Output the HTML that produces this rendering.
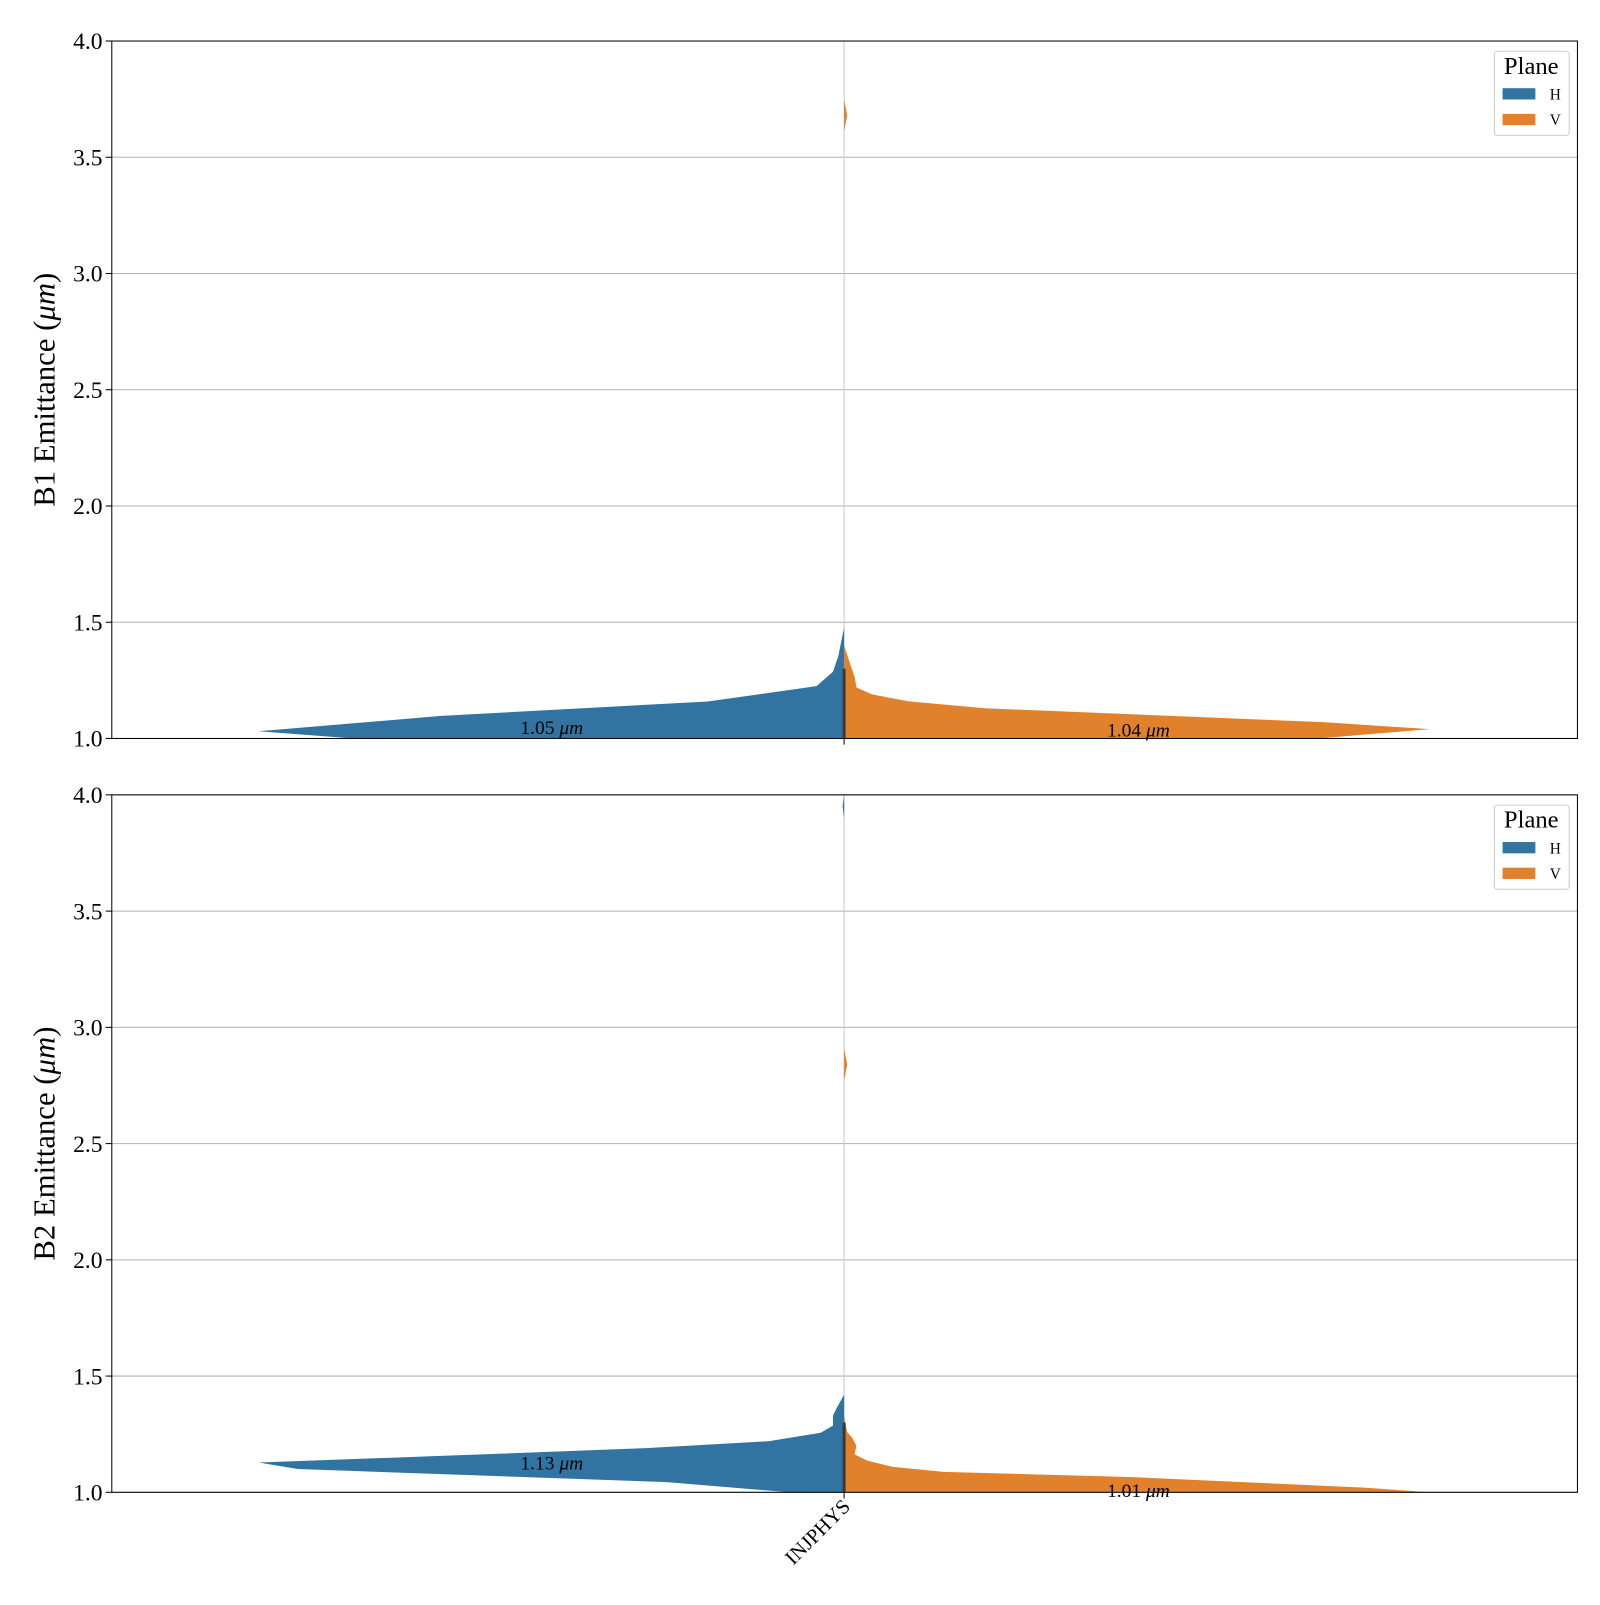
<!DOCTYPE html>
<html><head><meta charset="utf-8"><style>
body{margin:0;background:#fff}
svg{font-family:"Liberation Serif",serif}
</style></head><body>
<svg id="c" width="1600" height="1600" xmlns="http://www.w3.org/2000/svg"><g id="root" transform="scale(1.02564)"></g></svg>
<script>
const yTicks=[1.0,1.5,2.0,2.5,3.0,3.5,4.0];
const category=["INJPHYS"];
const panelLabels=["B1 Emittance (","B2 Emittance ("];
const b1H_y=[1.0,1.031,1.097,1.159,1.225,1.287,1.353,1.477];
const b1H_w=[0.837,1.0,0.688,0.233,0.047,0.019,0.01,0];
const b1V_y=[1.0,1.02,1.04,1.07,1.13,1.16,1.19,1.22,1.265,1.33,1.40];
const b1V_w=[0.81,0.905,1.0,0.818,0.24,0.109,0.047,0.021,0.018,0.009,0];
const b2H_y=[1.0,1.044,1.10,1.128,1.155,1.19,1.22,1.256,1.287,1.33,1.366,1.42];
const b2H_w=[0.093,0.303,0.933,1.0,0.706,0.338,0.128,0.04,0.019,0.019,0.012,0];
const b2V_y=[1.0,1.02,1.066,1.088,1.11,1.137,1.163,1.2,1.234,1.26,1.33];
const b2V_w=[1.0,0.888,0.485,0.17,0.082,0.039,0.018,0.021,0.014,0.005,0];
const medians=[[1.05,1.04],[1.13,1.01]];
const blips=[[null,3.68],[3.95,2.84]];
const NS="http://www.w3.org/2000/svg";
const svg=document.getElementById('root');
function mk(t,a,p){const e=document.createElementNS(NS,t);for(const k in a)e.setAttribute(k,a[k]);(p||svg).appendChild(e);return e;}
const X0=109,X1=1538,CX=823,W=571;
const panels=[{top:40,H:[b1H_y,b1H_w],V:[b1V_y,b1V_w]},{top:775,H:[b2H_y,b2H_w],V:[b2V_y,b2V_w]}];
panels.forEach((p,i)=>{
  const bot=p.top+680;
  const ys=v=>bot-(v-1)/3*680;
  const g=mk('g',{});
  
  
  yTicks.forEach(t=>{
    const l=mk('line',{x1:X0,x2:X1,y1:ys(t),y2:ys(t),stroke:'#b0b0b0','stroke-width':1},g);
    
    mk('line',{x1:X0-6,x2:X0,y1:ys(t),y2:ys(t),stroke:'#000'},g);
    const tx=mk('text',{x:X0-9,y:ys(t)+8,'text-anchor':'end','font-size':23},g);
    tx.textContent=t.toFixed(1);
    
  });
  mk('line',{x1:CX,x2:CX,y1:p.top,y2:bot,stroke:'#c8c8c8','stroke-width':1},g);
  function violin(arr,side,color,name){
    const [yy,ww]=arr;let d='M'+CX+','+ys(yy[0]);
    yy.forEach((v,k)=>{d+=' L'+(CX+side*ww[k]*W)+','+ys(v);});
    d+=' L'+CX+','+ys(yy[yy.length-1])+' Z';
    const e=mk('path',{d:d,fill:color},g);
    
  }
  violin(p.H,-1,'#3274a1','violin-h');
  violin(p.V,1,'#e1812c','violin-v');
  const bl=blips[i];
  if(bl[0]!==null){mk('path',{d:`M${CX},${ys(bl[0]+0.05)} L${CX-1.5},${ys(bl[0])} L${CX},${ys(bl[0]-0.05)}Z`,fill:'#3274a1'},g);}
  if(bl[1]!==null){mk('path',{d:`M${CX},${ys(bl[1]+0.07)} L${CX+3},${ys(bl[1])} L${CX},${ys(bl[1]-0.07)}Z`,fill:'#e1812c'},g);}
  mk('line',{x1:CX,x2:CX,y1:bot,y2:ys(1.3),stroke:'#3a3a3a','stroke-width':3},g);
  const m=medians[i];
  [[538,m[0]],[1110,m[1]]].forEach(([x,v])=>{
    const t=mk('text',{x:x,y:ys(v)+7,'text-anchor':'middle','font-size':19},g);
    t.innerHTML=v.toFixed(2)+' <tspan font-style="italic">μm</tspan>';
    
  });
  mk('rect',{x:X0,y:p.top,width:X1-X0,height:680,fill:'none',stroke:'#000','stroke-width':1},g);
  mk('line',{x1:CX,x2:CX,y1:bot,y2:bot+6,stroke:'#000'},g);
  const yl=mk('text',{x:0,y:0,transform:`translate(53,${p.top+340}) rotate(-90)`,'text-anchor':'middle','font-size':30},g);
  yl.innerHTML=panelLabels[i]+'<tspan font-style="italic">μm</tspan>)';
  
  const lg=mk('g',{},g);
  
  mk('rect',{x:1457,y:p.top+10,width:73,height:82,rx:3,fill:'#fff',stroke:'#ccc'},lg);
  const lt=mk('text',{x:1493,y:p.top+32,'text-anchor':'middle','font-size':24},lg);lt.textContent='Plane';
  [['H','#3274a1',52],['V','#e1812c',77]].forEach(([n,c,dy])=>{
    mk('rect',{x:1465,y:p.top+dy-6,width:32,height:11,fill:c},lg);
    const t=mk('text',{x:1511,y:p.top+dy+5,'font-size':15},lg);t.textContent=n;
    
  });
});
const xl=mk('text',{x:0,y:0,transform:'translate(830,1470) rotate(-45)','text-anchor':'end','font-size':20});
xl.textContent=category[0];

</script>
</body></html>
